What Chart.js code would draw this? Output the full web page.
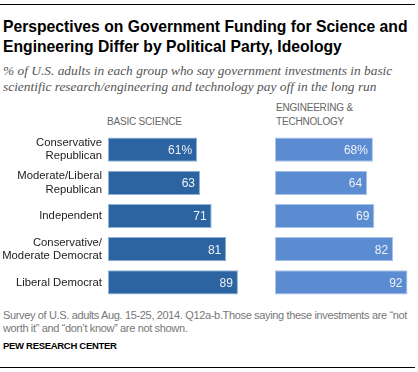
<!DOCTYPE html>
<html><head><meta charset="utf-8">
<script src="https://cdn.jsdelivr.net/npm/chart.js@4"></script>
<style>
html,body{margin:0;padding:0;width:418px;height:372px;overflow:hidden;background:#fff;}
.abs{position:absolute;white-space:nowrap;}
#rule1{position:absolute;left:0;top:4px;width:415px;height:1px;background:#000;}
#rule2{position:absolute;left:0;top:367px;width:415px;height:1px;background:#000;}
#title{left:3px;top:17px;font:bold 15.7px "Liberation Sans",Arial,sans-serif;line-height:20px;color:#000;}
#sub{left:3px;top:63px;font:italic 13.4px "Liberation Serif",serif;line-height:16px;color:#555;}
.hdr{font:10px "Liberation Sans",Arial,sans-serif;color:#666;line-height:14px;letter-spacing:-0.2px;}
#foot{left:3px;top:309px;font:11px "Liberation Sans",Arial,sans-serif;color:#777;line-height:13px;letter-spacing:-0.35px;}
#pew{left:3px;top:340px;font:bold 9.5px "Liberation Sans",Arial,sans-serif;color:#000;letter-spacing:-0.3px;}
#c1wrap{position:absolute;left:0;top:133px;width:254px;height:166px;}
#c2wrap{position:absolute;left:275px;top:133px;width:144px;height:166px;}
</style></head>
<body>
<div id="rule1"></div>
<div id="title" class="abs">Perspectives on Government Funding for Science and<br>Engineering Differ by Political Party, Ideology</div>
<div id="sub" class="abs">% of U.S. adults in each group who say government investments in basic<br>scientific research/engineering and technology pay off in the long run</div>
<div class="abs hdr" style="left:107px;top:115px;">BASIC SCIENCE</div>
<div class="abs hdr" style="left:276px;top:101px;">ENGINEERING &amp;<br>TECHNOLOGY</div>
<div id="c1wrap"><canvas id="c1"></canvas></div>
<div id="c2wrap"><canvas id="c2"></canvas></div>
<div id="foot" class="abs">Survey of U.S. adults Aug. 15-25, 2014. Q12a-b.Those saying these investments are “not<br>worth it” and “don’t know” are not shown.</div>
<div id="pew" class="abs">PEW RESEARCH CENTER</div>
<div id="rule2"></div>
<script>
const categories = [
  ["Conservative","Republican"],
  ["Moderate/Liberal","Republican"],
  "Independent",
  ["Conservative/","Moderate Democrat"],
  "Liberal Democrat"
];
const basicScience = [61, 63, 71, 81, 89];
const engineeringTech = [68, 64, 69, 82, 92];

const valueLabels = {
  id: 'valueLabels',
  afterDatasetsDraw(chart) {
    const ctx = chart.ctx;
    const meta = chart.getDatasetMeta(0);
    const data = chart.data.datasets[0].data;
    ctx.save();
    ctx.font = '12px "Liberation Sans", Arial, sans-serif';
    ctx.fillStyle = '#eef2f8';
    ctx.textAlign = 'right';
    ctx.textBaseline = 'middle';
    meta.data.forEach((bar, i) => {
      const txt = data[i] + (i === 0 ? '%' : '');
      ctx.fillText(txt, bar.x - 5, bar.y + 1);
    });
    ctx.restore();
  }
};

function makeChart(id, values, color, border, showLabels) {
  return new Chart(document.getElementById(id), {
    type: 'bar',
    data: {
      labels: categories,
      datasets: [{
        data: values,
        backgroundColor: color,
        borderColor: border,
        borderWidth: 1,
        borderSkipped: false,
        categoryPercentage: 1,
        barPercentage: 0.73
      }]
    },
    options: {
      indexAxis: 'y',
      responsive: true,
      maintainAspectRatio: false,
      animation: false,
      devicePixelRatio: 1,
      layout: { padding: 0 },
      plugins: { legend: { display: false }, tooltip: { enabled: false } },
      scales: {
        x: { display: false, min: 0, max: 100 },
        y: {
          display: showLabels,
          grid: { display: false, drawTicks: false },
          border: { display: false },
          afterFit: (s) => {
            s.width = showLabels ? 108 : 0;
            s.paddingTop = 0; s.paddingBottom = 0;
          },
          ticks: {
            color: '#222',
            padding: 6,
            font: { family: '"Liberation Sans", Arial, sans-serif', size: 11.3, lineHeight: 1.2 }
          }
        }
      }
    },
    plugins: [valueLabels]
  });
}
makeChart('c1', basicScience, '#2b64a0', '#8fb0d6', true);
makeChart('c2', engineeringTech, '#5b8bd0', '#a9c4ea', false);
</script>
</body></html>
